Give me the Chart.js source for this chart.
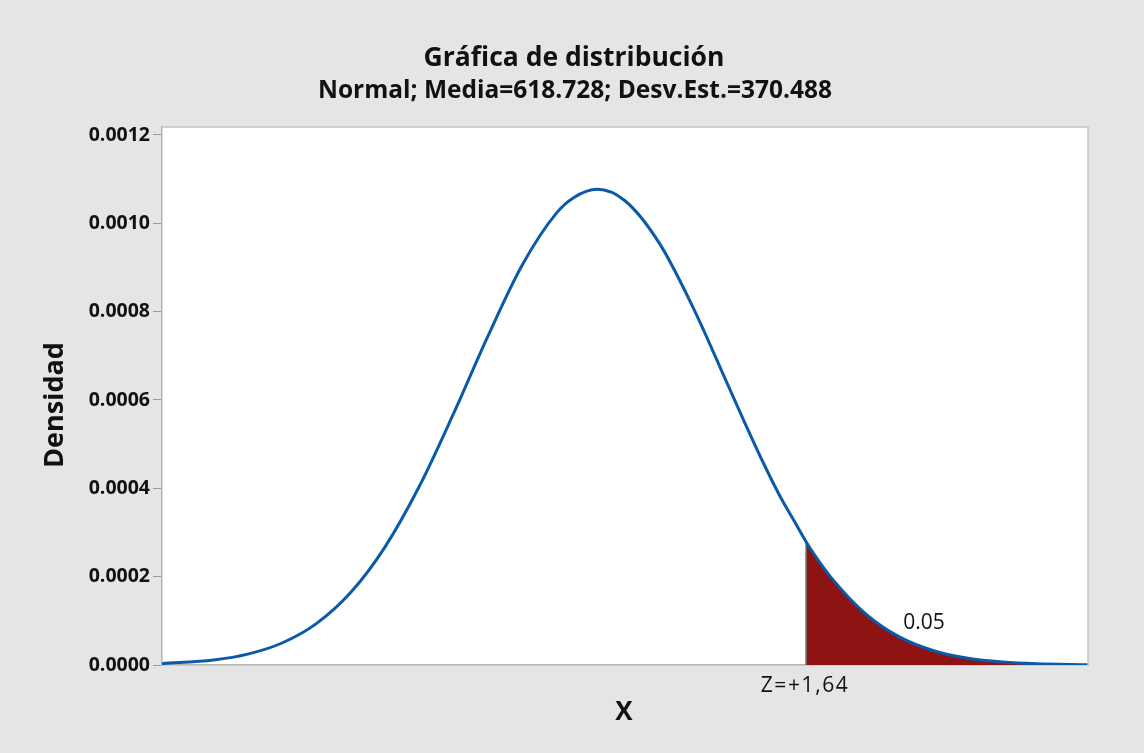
<!DOCTYPE html>
<html>
<head>
<meta charset="utf-8">
<script src="https://cdn.jsdelivr.net/npm/chart.js@4.4.1/dist/chart.umd.min.js"></script>
<style>
    html, body { margin: 0; padding: 0; background: #e5e5e5; }
    #wrap { width: 1144px; height: 753px; }
</style>
</head>
<body>
<div id="wrap"><canvas id="chart" width="1144" height="753"></canvas></div>
<script>
// Values (X, density)
const xValues = [-650, -500, -400, -300, -200, -100, 0, 100, 200, 300, 400, 500, 550, 619, 700, 800, 900, 1000, 1050, 1100, 1150, 1200, 1228, 1250, 1300, 1400, 1500, 1600, 1700, 1800, 1900, 2050];
const density = [0.0000031, 0.0000113, 0.0000246, 0.0000498, 0.0000937, 0.000164, 0.000267, 0.000404, 0.000569, 0.000744, 0.000905, 0.001023, 0.001058, 0.001077, 0.001051, 0.000955, 0.000807, 0.000634, 0.000547, 0.000463, 0.000385, 0.000317, 0.000279, 0.000252, 0.000199, 0.000117, 0.0000636, 0.0000323, 0.0000152, 0.0000067, 0.0000027, 0.0000006];

// Right tail cut
const zCut = 1228;
const zLabel = 'Z=+1,64';
const areaLabel = '0.05';
const areaLabelAt = [1572, 0.0000826];

// Axis
const xRange = [-650, 2050];
const yRange = [0, 0.001218];
const yTicks = [0, 0.0002, 0.0004, 0.0006, 0.0008, 0.0010, 0.0012];

const titleText = 'Gráfica de distribución';
const subtitleText = 'Normal; Media=618.728; Desv.Est.=370.488';
const xTitle = 'X';
const yTitle = 'Densidad';

const FONT = "'Open Sans', 'Noto Sans', sans-serif";
const INK = '#111111';

const curve = xValues.map((x, i) => ({ x, y: density[i] }));
const tail = curve.filter(p => p.x >= zCut);
const cutY = density[xValues.indexOf(zCut)];

// Background, plot frame and free text
const decorPlugin = {
    id: 'decor',
    beforeDraw(chart) {
        const { ctx, chartArea: a } = chart;
        ctx.save();
        ctx.fillStyle = '#e5e5e5';
        ctx.fillRect(0, 0, chart.width, chart.height);
        ctx.fillStyle = '#ffffff';
        ctx.fillRect(a.left, a.top, a.right - a.left, a.bottom - a.top);
        ctx.restore();
    },
    afterDraw(chart) {
        const { ctx, chartArea: a, scales } = chart;
        ctx.save();
        // top / right frame
        ctx.strokeStyle = '#c4c4c4';
        ctx.lineWidth = 1.5;
        ctx.beginPath();
        ctx.moveTo(a.left, a.top);
        ctx.lineTo(a.right, a.top);
        ctx.lineTo(a.right, a.bottom);
        ctx.stroke();

        ctx.fillStyle = INK;
        ctx.textAlign = 'center';
        ctx.textBaseline = 'alphabetic';
        ctx.font = `bold 26.5px ${FONT}`;
        ctx.fillText(titleText, 574, 66);
        ctx.font = `bold 24.5px ${FONT}`;
        ctx.fillText(subtitleText, 575, 98);

        ctx.font = `bold 26px ${FONT}`;
        ctx.fillText(xTitle, 624, 720);
        ctx.save();
        ctx.translate(63, 405);
        ctx.rotate(-Math.PI / 2);
        ctx.font = `bold 27px ${FONT}`;
        ctx.fillText(yTitle, 0, 0);
        ctx.restore();

        ctx.font = `21px ${FONT}`;
        ctx.fillText(areaLabel,
            scales.x.getPixelForValue(areaLabelAt[0]),
            scales.y.getPixelForValue(areaLabelAt[1]));

        ctx.letterSpacing = '1.6px';
        ctx.fillText(zLabel, scales.x.getPixelForValue(zCut) - 1, 692);
        ctx.restore();
    }
};

new Chart(document.getElementById('chart'), {
    type: 'line',
    data: {
        datasets: [
            {
                data: curve,
                borderColor: '#0b5aa8',
                borderWidth: 3,
                pointRadius: 0,
                fill: false,
                cubicInterpolationMode: 'monotone',
                order: 0
            },
            {
                data: [{ x: zCut, y: 0 }, { x: zCut, y: cutY }],
                borderColor: '#6e6e6e',
                borderWidth: 1.5,
                pointRadius: 0,
                fill: false,
                order: 1
            },
            {
                data: tail,
                borderWidth: 0,
                borderColor: 'rgba(0,0,0,0)',
                backgroundColor: '#8e1313',
                pointRadius: 0,
                fill: 'origin',
                cubicInterpolationMode: 'monotone',
                order: 2
            }
        ]
    },
    options: {
        responsive: false,
        devicePixelRatio: 1,
        animation: false,
        layout: { padding: { top: 127, right: 56, left: 0, bottom: 0 } },
        plugins: {
            legend: { display: false },
            tooltip: { enabled: false },
            title: { display: false }
        },
        scales: {
            x: {
                type: 'linear',
                min: xRange[0],
                max: xRange[1],
                afterFit(scale) { scale.height = 88; },
                grid: { display: false },
                border: { color: '#b4b4b4', width: 1.5 },
                ticks: { display: false }
            },
            y: {
                type: 'linear',
                min: yRange[0],
                max: yRange[1],
                afterFit(scale) { scale.width = 162; },
                afterBuildTicks(scale) { scale.ticks = yTicks.map(v => ({ value: v })); },
                grid: { drawOnChartArea: false, drawTicks: true, tickLength: 9, color: '#9a9a9a', lineWidth: 1 },
                border: { color: '#b4b4b4', width: 1.5 },
                ticks: {
                    padding: 3,
                    color: INK,
                    font: { family: FONT, size: 19.5, weight: 'bold' },
                    callback: v => v.toFixed(4)
                }
            }
        }
    },
    plugins: [decorPlugin]
});
</script>
</body>
</html>
